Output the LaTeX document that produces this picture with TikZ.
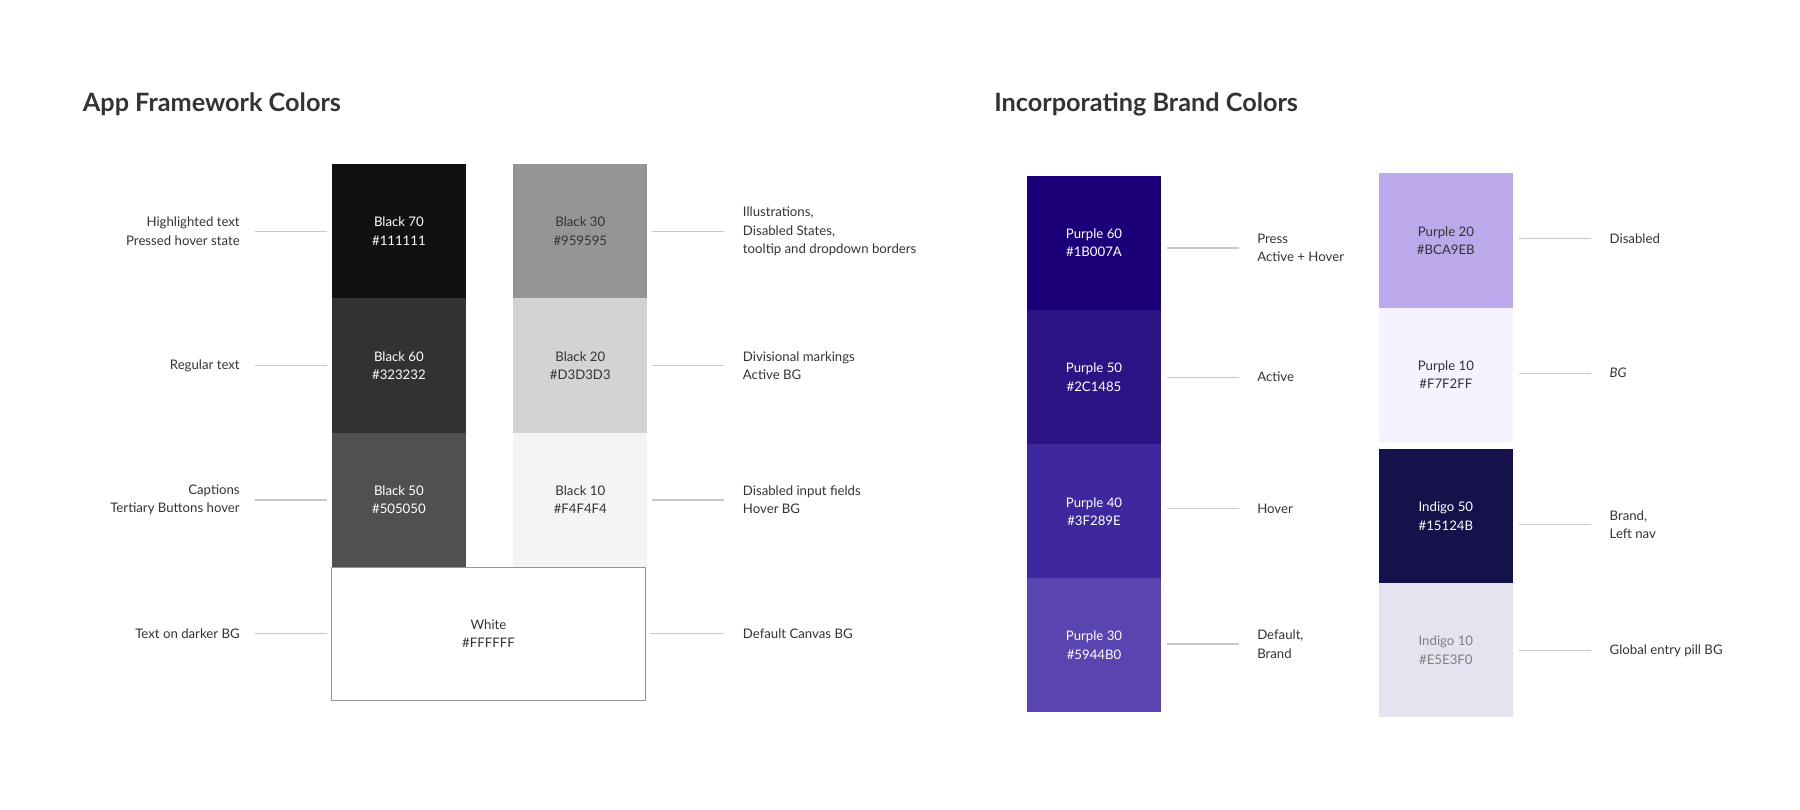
\documentclass[tikz,border=0pt]{standalone}
\usepackage{fontspec}
\setmainfont{Lato}
\usetikzlibrary{positioning}
\definecolor{ink}{HTML}{333333}
\definecolor{rule}{HTML}{C8C8C8}
\definecolor{bk70}{HTML}{111111}
\definecolor{bk60}{HTML}{323232}
\definecolor{bk50}{HTML}{505050}
\definecolor{bk30}{HTML}{959595}
\definecolor{bk20}{HTML}{D3D3D3}
\definecolor{bk10}{HTML}{F4F4F4}
\definecolor{pu60}{HTML}{1B007A}
\definecolor{pu50}{HTML}{2C1485}
\definecolor{pu40}{HTML}{3F289E}
\definecolor{pu30}{HTML}{5944B0}
\definecolor{pu20}{HTML}{BCA9EB}
\definecolor{pu10}{HTML}{F7F2FF}
\definecolor{in50}{HTML}{15124B}
\definecolor{in10}{HTML}{E5E3F0}
\tikzstyle{swatch} = [rectangle, minimum width=117pt, minimum height=117pt, inner sep=0pt, align=center, font=\fontsize{11.5}{16}\selectfont, text=white]
\tikzstyle{light} = [text=ink]
\tikzstyle{lab} = [align=left, font=\fontsize{11.5}{16}\selectfont, text=ink, inner sep=0pt]
\tikzstyle{labl} = [align=right, font=\fontsize{11.5}{16}\selectfont, text=ink, inner sep=0pt]
\tikzstyle{title} = [anchor=west, font=\fontsize{22}{26}\selectfont\bfseries, text=ink, inner sep=0pt]
\tikzstyle{lead} = [rule, line width=1pt]

\begin{document}
\begin{tikzpicture}[x=1pt, y=-1pt]
    \useasboundingbox (0,0) rectangle (1568,705);

        \node (titleA) [title] at (72,91) {App Framework Colors};
        \node (titleB) [title] at (866,91) {Incorporating Brand Colors};

        % framework greys
        \node (b70) [swatch, fill=bk70] at (347.5,201.5) {Black 70\\\#111111};
        \node (b60) [swatch, fill=bk60] at (347.5,318.5) {Black 60\\\#323232};
        \node (b50) [swatch, fill=bk50] at (347.5,435.5) {Black 50\\\#505050};
        \node (b30) [swatch, light, fill=bk30] at (505.5,201.5) {Black 30\\\#959595};
        \node (b20) [swatch, light, fill=bk20] at (505.5,318.5) {Black 20\\\#D3D3D3};
        \node (b10) [swatch, light, fill=bk10] at (505.5,435.5) {Black 10\\\#F4F4F4};
        \node (wht) [swatch, light, draw=bk30, line width=1pt, minimum width=273pt, minimum height=116pt] at (425.5,552) {White\\\#FFFFFF};

        \node (lb70) [labl, anchor=east] at (209,201.5) {Highlighted text\\Pressed hover state};
        \node (lb60) [labl, anchor=east] at (209,318.5) {Regular text};
        \node (lb50) [labl, anchor=east] at (209,435.5) {Captions\\Tertiary Buttons hover};
        \node (lwht) [labl, anchor=east] at (209,552) {Text on darker BG};
        \node (lb30) [lab, anchor=west] at (647,201.5) {Illustrations,\\Disabled States,\\tooltip and dropdown borders};
        \node (lb20) [lab, anchor=west] at (647,318.5) {Divisional markings\\Active BG};
        \node (lb10) [lab, anchor=west] at (647,435.5) {Disabled input fields\\Hover BG};
        \node (lwhr) [lab, anchor=west] at (647,552) {Default Canvas BG};

        \draw [lead, shorten <=13pt, shorten >=4pt] (lb70.east) -- (b70.west);
        \draw [lead, shorten <=13pt, shorten >=4pt] (lb60.east) -- (b60.west);
        \draw [lead, shorten <=13pt, shorten >=4pt] (lb50.east) -- (b50.west);
        \draw [lead, shorten <=13pt, shorten >=4pt] (lwht.east) -- (wht.west);
        \draw [lead, shorten <=16pt, shorten >=4pt] (lb30.west) -- (b30.east);
        \draw [lead, shorten <=16pt, shorten >=4pt] (lb20.west) -- (b20.east);
        \draw [lead, shorten <=16pt, shorten >=4pt] (lb10.west) -- (b10.east);
        \draw [lead, shorten <=16pt, shorten >=4pt] (lwhr.west) -- (wht.east);

        % brand colours
        \node (p60) [swatch, fill=pu60] at (953,211.5) {Purple 60\\\#1B007A};
        \node (p50) [swatch, fill=pu50] at (953,328.5) {Purple 50\\\#2C1485};
        \node (p40) [swatch, fill=pu40] at (953,445.5) {Purple 40\\\#3F289E};
        \node (p30) [swatch, fill=pu30] at (953,562) {Purple 30\\\#5944B0};
        \node (p20) [swatch, light, fill=pu20] at (1259.5,209.5) {Purple 20\\\#BCA9EB};
        \node (p10) [swatch, light, fill=pu10] at (1259.5,326.5) {Purple 10\\\#F7F2FF};
        \node (i50) [swatch, fill=in50] at (1259.5,449.5) {Indigo 50\\\#15124B};
        \node (i10) [swatch, text=bk30!85!black, fill=in10] at (1259.5,566.5) {Indigo 10\\\#E5E3F0};

        \node (lp60) [lab, anchor=west] at (1095,216) {Press\\Active + Hover};
        \node (lp50) [lab, anchor=west] at (1095,328.5) {Active};
        \node (lp40) [lab, anchor=west] at (1095,443) {Hover};
        \node (lp30) [lab, anchor=west] at (1095,561) {Default,\\Brand};
        \node (lp20) [lab, anchor=west] at (1402,208) {Disabled};
        \node (lp10) [lab, anchor=west, font=\fontsize{11.5}{16}\selectfont\itshape] at (1402,325) {BG};
        \node (li50) [lab, anchor=west] at (1402,457) {Brand,\\Left nav};
        \node (li10) [lab, anchor=west] at (1402,567) {Global entry pill BG};

        \draw [lead, shorten <=16pt, shorten >=5pt] (lp60.west) -- (lp60.west -| p60.east);
        \draw [lead, shorten <=16pt, shorten >=5pt] (lp50.west) -- (lp50.west -| p50.east);
        \draw [lead, shorten <=16pt, shorten >=5pt] (lp40.west) -- (lp40.west -| p40.east);
        \draw [lead, shorten <=16pt, shorten >=5pt] (lp30.west) -- (lp30.west -| p30.east);
        \draw [lead, shorten <=16pt, shorten >=5pt] (lp20.west) -- (lp20.west -| p20.east);
        \draw [lead, shorten <=16pt, shorten >=5pt] (lp10.west) -- (lp10.west -| p10.east);
        \draw [lead, shorten <=16pt, shorten >=5pt] (li50.west) -- (li50.west -| i50.east);
        \draw [lead, shorten <=16pt, shorten >=5pt] (li10.west) -- (li10.west -| i10.east);
        \end{tikzpicture}
\end{document}
